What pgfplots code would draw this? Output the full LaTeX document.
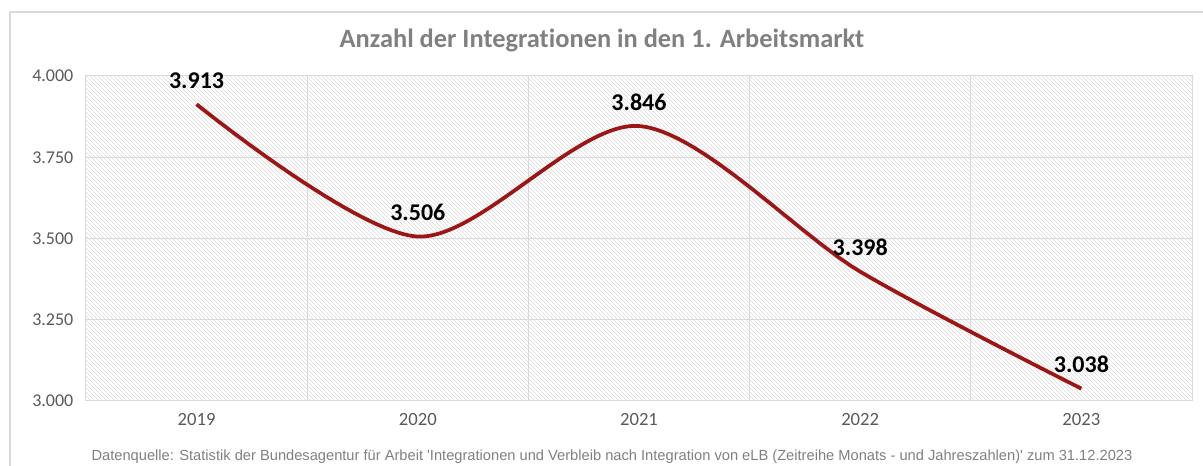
\documentclass[border=0pt]{standalone}
\usepackage{fontspec}
\setmainfont{Carlito}[Ligatures=NoCommon]
\newfontfamily\arialfont{Liberation Sans}
\usepackage{pgfplots}
\pgfplotsset{compat=1.18}
\usetikzlibrary{patterns}
\definecolor{linered}{RGB}{156,22,22}
\definecolor{gridgray}{RGB}{217,217,217}
\definecolor{titlegray}{RGB}{128,128,128}
\definecolor{tickgray}{RGB}{89,89,89}
\begin{document}
\begin{tikzpicture}[x=0.75pt,y=0.75pt]
\useasboundingbox (0,0) rectangle (1203,466);
\draw[gridgray, line width=1.5pt] (10,454) -- (1203,454);
\draw[gridgray, line width=1.5pt] (10,454) -- (10,0);
\node[font=\bfseries\fontsize{19.8}{22}\selectfont, text=titlegray] at (602,426) {Anzahl der Integrationen in den 1. Arbeitsmarkt};
\node[font=\arialfont\fontsize{11}{13}\selectfont, text=titlegray] at (612,9) {Datenquelle: Statistik der Bundesagentur für Arbeit 'Integrationen und Verbleib nach Integration von eLB (Zeitreihe Monats - und Jahreszahlen)' zum 31.12.2023};
\begin{axis}[at={(64.5pt,48.75pt)}, anchor=south west, scale only axis,
  width=829.5pt, height=243.75pt,
  xmin=-0.5, xmax=4.5, ymin=3000, ymax=4000,
  xtick={0,1,2,3,4}, xticklabels={2019,2020,2021,2022,2023},
  ytick={3000,3250,3500,3750,4000},
  minor xtick={0.5,1.5,2.5,3.5}, xminorgrids, ymajorgrids,
  major tick length=0pt, minor tick length=0pt,
  axis line style={gridgray, line width=0.75pt},
  grid style={gridgray, line width=0.75pt},
  minor grid style={gridgray, line width=0.75pt},
  /pgf/number format/.cd, 1000 sep={.}, assume math mode=true, /pgfplots/.cd,
  tick label style={font=\fontsize{13.5}{16}\selectfont, text=tickgray},
  xticklabel style={yshift=-6pt, font=\fontsize{14}{16}\selectfont},
  yticklabel style={xshift=-6pt},
  axis background/.style={pattern=north west lines, pattern color=gray!28},
  nodes near coords,
  nodes near coords style={font=\bfseries\fontsize{18}{20}\selectfont, text=black, anchor=center, yshift=18pt},
  clip=false]
\addplot[linered, line width=2.8pt, smooth, tension=0.5, mark=none]
  coordinates {(0,3913) (1,3506) (2,3846) (3,3398) (4,3038)};
\end{axis}
\end{tikzpicture}
\end{document}
